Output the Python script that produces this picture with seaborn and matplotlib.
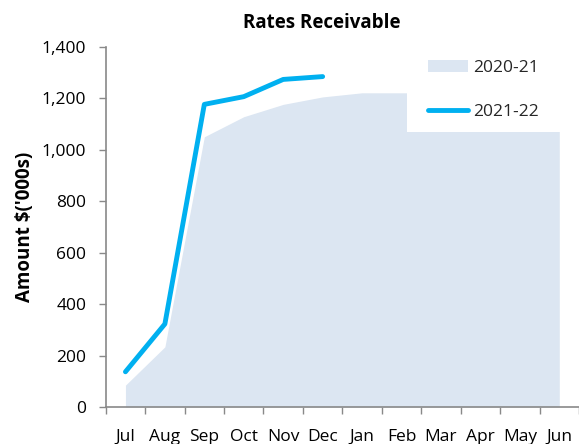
"""plot.py

Rates receivable, cumulative by month: 2020-21 area vs 2021-22 line.

"""

import numpy as np
import pandas as pd
import matplotlib
matplotlib.use("Agg")
import matplotlib.pyplot as plt
from matplotlib.patches import Rectangle
import seaborn as sns

MONTHS = ["Jul", "Aug", "Sep", "Oct", "Nov", "Dec",
          "Jan", "Feb", "Mar", "Apr", "May", "Jun"]
PRIOR_YEAR = [85, 234, 1051, 1129, 1177, 1206,
              1222, 1222, 1222, 1222, 1222, 1222]
CURRENT_YEAR = [137, 323, 1177, 1207, 1274, 1285]
PRIOR_LABEL = "2020-21"
CURRENT_LABEL = "2021-22"
Y_TICKS = [0, 200, 400, 600, 800, 1000, 1200, 1400]

AREA_COLOR = "#DCE6F2"
LINE_COLOR = "#00B0F0"
SPINE_COLOR = "#898989"


def run():
    sns.set_theme(style="white")
    plt.rcParams["font.family"] = ["Open Sans", "DejaVu Sans"]

    fig = plt.figure(figsize=(5.79, 4.44), dpi=100)
    ax = fig.add_axes([0.1826, 0.0833, 0.8174, 0.8108])

    pos = np.arange(len(MONTHS))
    ax.fill_between(pos, PRIOR_YEAR, color=AREA_COLOR, linewidth=0,
                    label=PRIOR_LABEL, zorder=1)

    df = pd.DataFrame({"pos": pos[:len(CURRENT_YEAR)],
                       "amount": CURRENT_YEAR})
    sns.lineplot(data=df, x="pos", y="amount", ax=ax, color=LINE_COLOR,
                 linewidth=3.5, solid_capstyle="round", label=CURRENT_LABEL,
                 zorder=3)

    ax.set_xlim(-0.5, len(MONTHS) - 0.5)
    ax.set_ylim(0, 1400)

    # tick marks sit between the months, labels on the months
    ax.set_xticks(np.arange(-0.5, len(MONTHS), 1.0))
    ax.set_xticklabels([])
    ax.set_xticks(pos, minor=True)
    ax.set_xticklabels(MONTHS, minor=True, fontsize=12.5, color="#000000")
    ax.tick_params(axis="x", which="major", direction="out", length=5,
                   width=1, color=SPINE_COLOR, bottom=True)
    ax.tick_params(axis="x", which="minor", length=0, pad=16, bottom=True)

    ax.set_yticks(Y_TICKS)
    ax.set_yticklabels(["{:,}".format(v) for v in Y_TICKS], fontsize=12.5,
                       color="#000000")
    ax.tick_params(axis="y", direction="out", length=5, width=1,
                   color=SPINE_COLOR, pad=9, left=True)

    for side in ("top", "right"):
        ax.spines[side].set_visible(False)
    for side in ("left", "bottom"):
        ax.spines[side].set_color(SPINE_COLOR)
        ax.spines[side].set_linewidth(1.2)
    ax.spines["bottom"].set_clip_on(False)

    ax.set_xlabel("")
    ax.set_ylabel("Amount $('000s)", fontsize=13.5, fontweight="bold",
                  color="#000000", labelpad=5)

    fig.text(322 / 579, 1 - 23 / 444, "Rates Receivable", ha="center",
             va="center", fontsize=13.5, fontweight="bold", color="#000000")

    # the legend sits on a white box that hides the top of the area
    ax.add_patch(Rectangle((0.637, 0.763), 0.4, 0.3, transform=ax.transAxes,
                           facecolor="white", edgecolor="none", zorder=4,
                           clip_on=False))
    leg = ax.legend(loc="upper left", bbox_to_anchor=(0.658, 0.994),
                    frameon=False, fontsize=12.5, handlelength=2.35,
                    handletextpad=0.3, labelspacing=1.6,
                    borderpad=0.6, borderaxespad=0)
    leg.set_zorder(5)

    fig.savefig("out.png", dpi=100)


if __name__ == "__main__":
    run()
